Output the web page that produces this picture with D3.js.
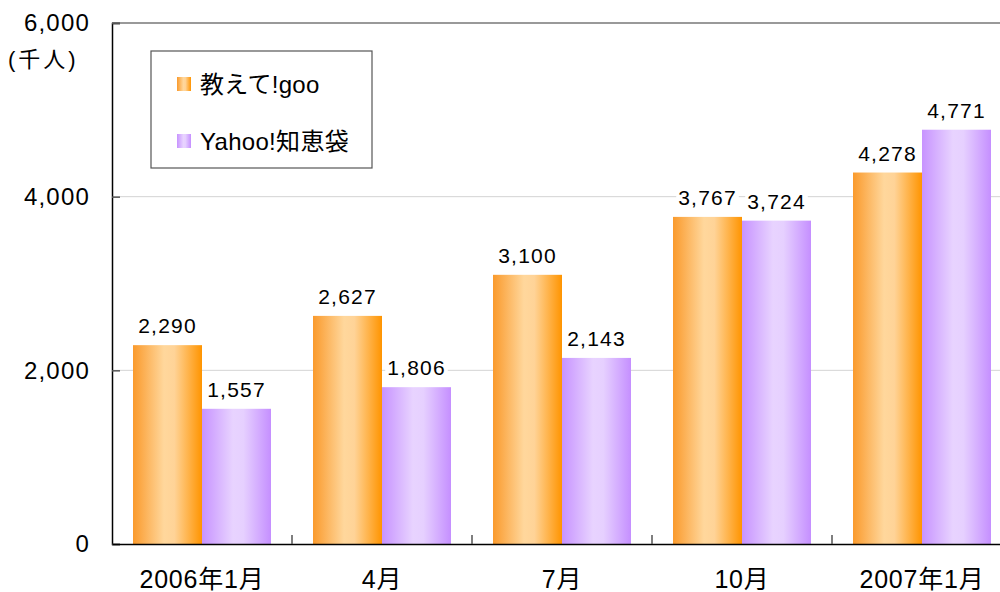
<!DOCTYPE html>
<html>
<head>
<meta charset="utf-8">
<script src="https://cdn.jsdelivr.net/npm/d3@7"></script>
<style>
  body { margin: 0; background: #fff; }
  text { font-family: "Liberation Sans", Arial, "Noto Sans CJK JP", sans-serif; fill: #000; }
</style>
</head>
<body>
<div id="chart"></div>
<script>
// Data
const categories = ['2006年1月', '4月', '7月', '10月', '2007年1月']
const seriesNames = ['教えて!goo', 'Yahoo!知恵袋']
const gooValues = [2290, 2627, 3100, 3767, 4278]
const yahooValues = [1557, 1806, 2143, 3724, 4771]
const yTicks = [0, 2000, 4000, 6000]

const seriesValues = [gooValues, yahooValues]

// Dimensions
const dimensions = {
  width: 1000,
  height: 592,
  left: 112,
  top: 23,
  bottom: 544,
  right: 1012,
}

const svg = d3.select('#chart')
  .append('svg')
  .attr('width', dimensions.width)
  .attr('height', dimensions.height)

// gradients
const defs = svg.append('defs')
const gradStops = [
  [['0%', '#fa9a2c'], ['45%', '#ffd79c'], ['60%', '#ffd397'], ['100%', '#ff9400']],
  [['0%', '#c793ff'], ['45%', '#e8d3ff'], ['60%', '#e6d0ff'], ['100%', '#c58fff']],
]
gradStops.forEach((stops, i) => {
  defs.append('linearGradient')
    .attr('id', 'grad' + i)
    .attr('x1', '0%').attr('x2', '100%').attr('y1', '0%').attr('y2', '0%')
    .selectAll('stop')
    .data(stops)
    .join('stop')
    .attr('offset', d => d[0])
    .attr('stop-color', d => d[1])
})

// Scales
const x0 = d3.scaleBand()
  .domain(categories)
  .range([dimensions.left, dimensions.right])

const x1 = d3.scaleBand()
  .domain(d3.range(seriesNames.length))
  .range([21, x0.bandwidth() - 21])

const y = d3.scaleLinear()
  .domain([0, 6000])
  .range([dimensions.bottom, dimensions.top])

// gridlines
svg.append('g')
  .selectAll('line')
  .data(yTicks.filter(d => d > 0 && d < 6000))
  .join('line')
  .attr('x1', dimensions.left)
  .attr('x2', dimensions.right)
  .attr('y1', d => y(d))
  .attr('y2', d => y(d))
  .attr('stroke', '#d4d4d4')
  .attr('stroke-width', 1)

// top border
svg.append('line')
  .attr('x1', dimensions.left).attr('x2', dimensions.right)
  .attr('y1', y(6000)).attr('y2', y(6000))
  .attr('stroke', '#777').attr('stroke-width', 1.5)

// bars
const groups = svg.append('g')
  .selectAll('g')
  .data(categories)
  .join('g')
  .attr('transform', d => `translate(${x0(d)},0)`)

groups.selectAll('rect')
  .data((d, i) => seriesValues.map((s, k) => ({ k, value: s[i] })))
  .join('rect')
  .attr('x', d => x1(d.k))
  .attr('width', x1.bandwidth())
  .attr('y', d => y(d.value))
  .attr('height', d => y(0) - y(d.value))
  .attr('fill', d => `url(#grad${d.k})`)

// value labels with white backdrop
const labels = groups.selectAll('g.lbl')
  .data((d, i) => seriesValues.map((s, k) => ({ k, value: s[i] })))
  .join('g')
  .attr('class', 'lbl')

labels.append('text')
  .attr('x', d => x1(d.k) + x1.bandwidth() / 2)
  .attr('y', d => y(d.value) - 12)
  .attr('text-anchor', 'middle')
  .style('font-size', '21px')
  .style('letter-spacing', '1.2px')
  .text(d => d3.format(',')(d.value))

labels.each(function () {
  const g = d3.select(this)
  const bb = g.select('text').node().getBBox()
  g.insert('rect', 'text')
    .attr('x', bb.x - 2).attr('y', bb.y)
    .attr('width', bb.width + 4).attr('height', bb.height)
    .attr('fill', '#fff')
})

// y axis
const yAxis = d3.axisLeft(y)
  .tickValues(yTicks)
  .tickFormat(d3.format(','))
  .tickSize(-8)
  .tickPadding(22)

const yG = svg.append('g')
  .attr('transform', `translate(${dimensions.left},0)`)
  .call(yAxis)
yG.select('.domain').attr('stroke', '#000').attr('stroke-width', 1.5)
yG.selectAll('.tick line').attr('stroke', '#555').attr('stroke-width', 1.5)
yG.selectAll('.tick text')
  .style('font-size', '24px')
  .style('letter-spacing', '1.2px')
  .attr('font-family', null)

// unit label
svg.append('text')
  .attr('x', 8)
  .attr('y', 67)
  .style('font-size', '22px')
  .style('letter-spacing', '3px')
  .text('(千人)')

// x axis
const xAxis = d3.axisBottom(x0)
  .tickSize(0)
  .tickPadding(26)

const xG = svg.append('g')
  .attr('transform', `translate(0,${dimensions.bottom})`)
  .call(xAxis)
xG.select('.domain').attr('stroke', '#000').attr('stroke-width', 1.5)
xG.selectAll('.tick text')
  .style('font-size', '25px')
  .style('letter-spacing', '0.8px')
  .attr('font-family', null)

// tick marks between categories
svg.append('g')
  .selectAll('line')
  .data(categories.slice(1))
  .join('line')
  .attr('x1', d => x0(d)).attr('x2', d => x0(d))
  .attr('y1', dimensions.bottom).attr('y2', dimensions.bottom - 9)
  .attr('stroke', '#555').attr('stroke-width', 1.5)

// legend
const legend = svg.append('g')
  .attr('transform', 'translate(151,51)')

legend.append('rect')
  .attr('width', 221)
  .attr('height', 117)
  .attr('fill', '#fff')
  .attr('stroke', '#555')
  .attr('stroke-width', 1.2)

const items = legend.selectAll('g.item')
  .data(seriesNames)
  .join('g')
  .attr('class', 'item')
  .attr('transform', (d, i) => `translate(26,${33 + i * 57})`)

items.append('rect')
  .attr('y', -7)
  .attr('width', 14)
  .attr('height', 14)
  .attr('fill', (d, i) => `url(#grad${i})`)

items.append('text')
  .attr('x', 23)
  .attr('y', 9)
  .style('font-size', '24px')
  .style('letter-spacing', '0.3px')
  .text(d => d)
</script>
</body>
</html>
